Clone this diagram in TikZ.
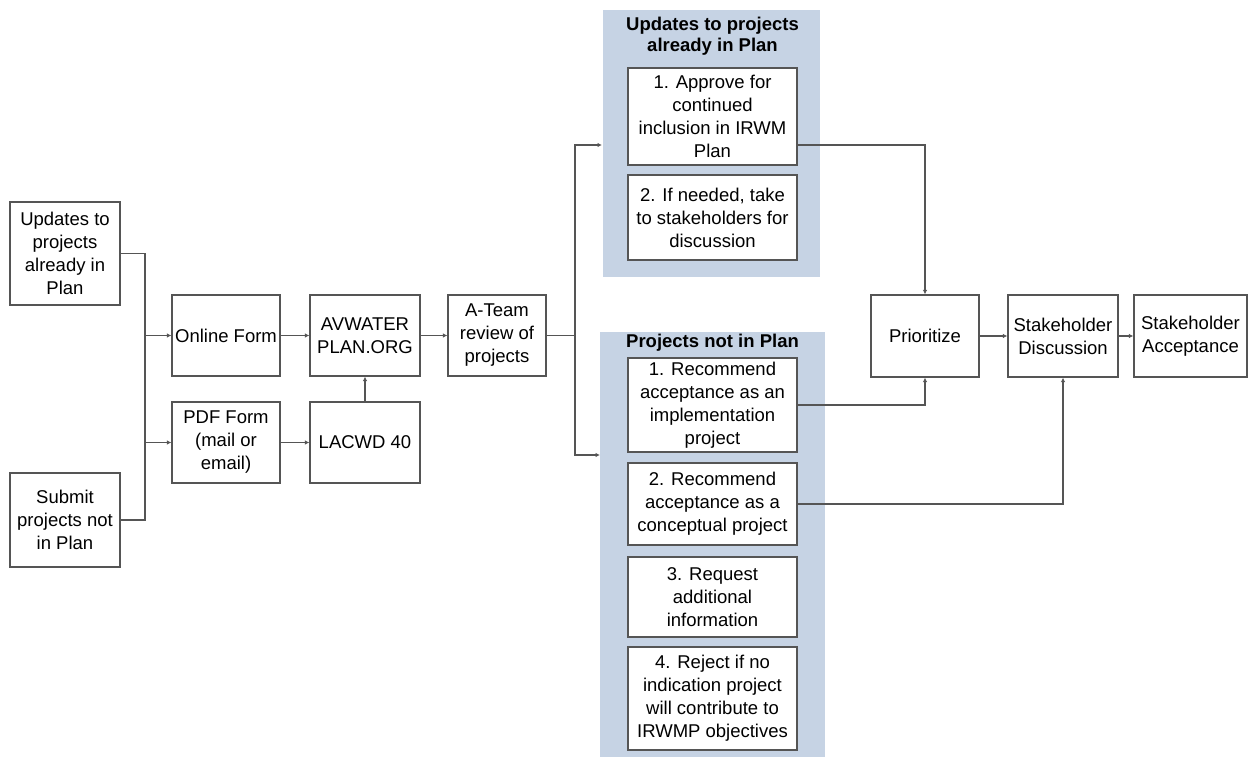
\documentclass[tikz,border=0pt]{standalone}
\usepackage{fontspec}
\setmainfont{Liberation Sans}
\usetikzlibrary{arrows.meta}
\definecolor{panelblue}{RGB}{198,211,228}
\definecolor{linegray}{RGB}{85,85,85}

\begin{document}
\begin{tikzpicture}[x=1pt,y=-1pt]
	\tikzstyle{box} = [rectangle,draw=linegray,fill=white,line width=1.2pt,align=center,inner sep=1pt,font=\fontsize{18.5}{23}\selectfont]
	\tikzstyle{panel} = [rectangle,fill=panelblue,inner sep=0pt]
	\tikzstyle{title} = [align=center,font=\bfseries\fontsize{18.5}{20.5}\selectfont]
	\tikzstyle{edge} = [-,draw=linegray,line width=1.1pt]
	\tikzstyle{arrow} = [-{Latex[length=4.5pt,width=4.5pt]},draw=linegray,line width=1.1pt]
	\useasboundingbox (0,0) rectangle (1249,757);
	\node[panel,minimum width=217,minimum height=267] (upanel) at (711.5,143.5) {};
	\node[panel,minimum width=225,minimum height=425] (lpanel) at (712.5,544.5) {};
	\node[title] (ut) at (712.5,36) {Updates to projects\\already in Plan};
	\node[title] (lt) at (712.5,343) {Projects not in Plan};
	\node[box,minimum width=110,minimum height=103] (upd) at (65,253.5) {Updates to\\projects\\already in\\Plan};
	\node[box,minimum width=110,minimum height=94] (sub) at (65,520) {Submit\\projects not\\in Plan};
	\node[box,minimum width=108,minimum height=81] (online) at (226,335.5) {Online Form};
	\node[box,minimum width=108,minimum height=81] (pdf) at (226,442.5) {PDF Form\\(mail or\\email)};
	\node[box,minimum width=110,minimum height=81] (avw) at (365,335.5) {AVWATER\\PLAN.ORG};
	\node[box,minimum width=110,minimum height=81] (lacwd) at (365,442.5) {LACWD 40};
	\node[box,minimum width=98,minimum height=81] (ateam) at (497,335.5) {A-Team\\review of\\projects};
	\node[box,minimum width=169,minimum height=97] (u1) at (712.5,116.5) {1. Approve for\\continued\\inclusion in IRWM\\Plan};
	\node[box,minimum width=169,minimum height=85] (u2) at (712.5,217.5) {2. If needed, take\\to stakeholders for\\discussion};
	\node[box,minimum width=169,minimum height=94] (p1) at (712.5,405) {1. Recommend\\acceptance as an\\implementation\\project};
	\node[box,minimum width=169,minimum height=82] (p2) at (712.5,504) {2. Recommend\\acceptance as a\\conceptual project};
	\node[box,minimum width=169,minimum height=80] (p3) at (712.5,597) {3. Request\\additional\\information};
	\node[box,minimum width=169,minimum height=103] (p4) at (712.5,698.5) {4. Reject if no\\indication project\\will contribute to\\IRWMP objectives};
	\node[box,minimum width=108,minimum height=82] (prio) at (925,336) {Prioritize};
	\node[box,minimum width=110,minimum height=82] (sdisc) at (1063,336) {Stakeholder\\Discussion};
	\node[box,minimum width=113,minimum height=82] (sacc) at (1190.5,336) {Stakeholder\\Acceptance};
	\coordinate (jl) at (145,335.5);
	\coordinate (jr) at (575,335.5);
	\coordinate (ua) at (602,145);
	\coordinate (la) at (600,455);

	\draw[edge] (upd.east) -| (jl) |- (sub.east);
	\draw[arrow] (jl) -- (online.west);
	\draw[arrow] (jl |- pdf.west) -- (pdf.west);
	\draw[arrow] (online) -- (avw);
	\draw[arrow] (pdf) -- (lacwd);
	\draw[arrow] (lacwd) -- (avw);
	\draw[arrow] (avw) -- (ateam);
	\draw[edge] (ateam.east) -- (jr);
	\draw[arrow] (jr) |- (ua);
	\draw[arrow] (jr) |- (la);
	\draw[arrow] (u1.east |- ua) -| (prio.north);
	\draw[arrow] (p1.east) -| (prio.south);
	\draw[arrow] (p2.east) -| (sdisc.south);
	\draw[arrow] (prio) -- (sdisc);
	\draw[arrow] (sdisc) -- (sacc);
\end{tikzpicture}
\end{document}
